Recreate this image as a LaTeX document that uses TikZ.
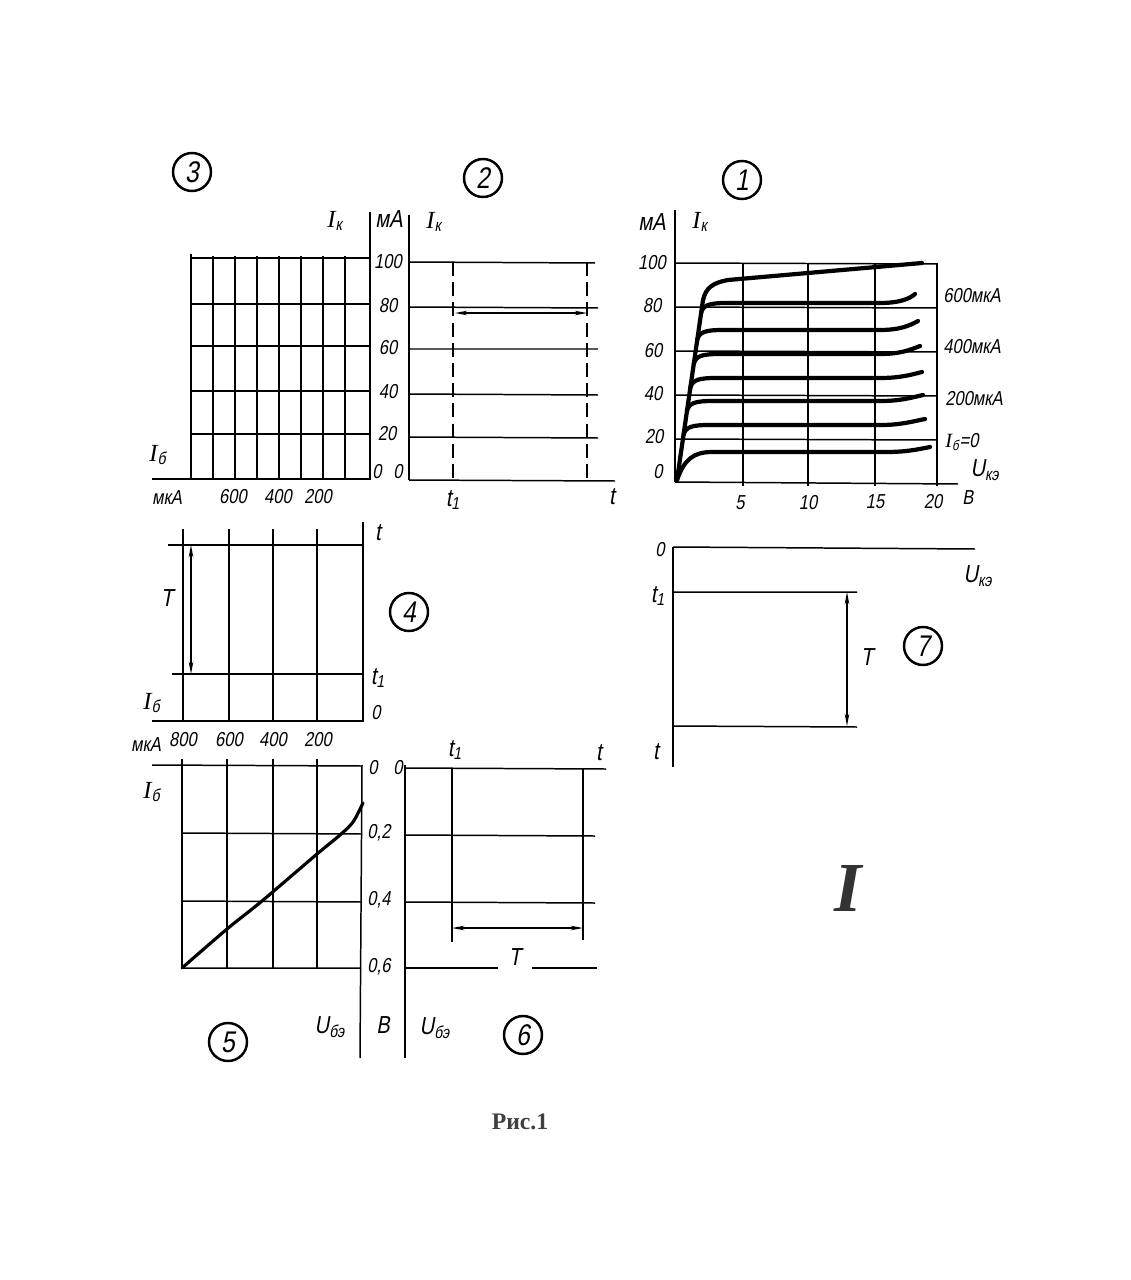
\documentclass[tikz,border=0pt]{standalone}
\usepackage{fontspec}
\usepackage{tikz}
\usetikzlibrary{calc}
\usetikzlibrary{arrows.meta}
\newfontfamily\hand[FakeStretch=0.82,FakeSlant=0.18]{Liberation Sans}
\newfontfamily\capfont{Liberation Serif}
\newcommand{\Ih}{{\capfont\itshape I}}
\newcommand{\createcurve}[3]{\pgfmathsetmacro{\curvex}{677+(470-#1)*0.144} \draw[ikcurve] (\curvex,{#1+10}) .. controls ({\curvex+2},{#1+2}) and ({\curvex+8},#1) .. ({\curvex+26},#1) -- (880,#1) .. controls (900,#1) and (910,{(#1+#3)/2}) .. (#2,#3);}
\tikzset{
  gridline/.style={line width=0.85pt},
  ikcurve/.style={line width=2.4pt, line cap=round, line join=round},
  dimarrow/.style={line width=0.85pt, {Stealth[length=7pt,width=2.6pt]}-{Stealth[length=7pt,width=2.6pt]}},
  tick/.style={font=\hand\fontsize{11.5}{11.5}\selectfont, inner sep=0pt},
  lbl/.style={font=\hand\fontsize{14}{14}\selectfont, inner sep=0pt},
  num/.style={circle, draw, line width=1.4pt, minimum size=0.76cm, inner sep=0pt, font=\hand\fontsize{17}{17}\selectfont}
}

\begin{document}
\begin{tikzpicture}[x=0.02cm,y=-0.02cm]
    \fill[white] (0,0) rectangle (1131,1280);
    \useasboundingbox (0,0) rectangle (1131,1280);

    % circled numbers
    \node[num] (c3) at (192,172) {3};
    \node[num] (c2) at (483,178) {2};
    \node[num] (c1) at (742,180) {1};
    \node[num] (c4) at (409,612) {4};
    \node[num] (c5) at (228,1042) {5};
    \node[num] (c6) at (523,1035) {6};
    \node[num] (c7) at (923,646) {7};

    % 3
    \draw[gridline] (370,212) -- (370,480);
    \draw[gridline] (152,479) -- (370,479);
    \draw[gridline] (191,258) -- (370,258) (191,304) -- (370,304) (191,346) -- (370,346) (191,391) -- (370,391) (191,434) -- (370,434);
    \draw[gridline] (191,254) -- (191,479) (213,256) -- (213,479) (235,256) -- (235,479) (257,256) -- (257,479) (279,256) -- (279,479) (301,256) -- (301,479) (323,256) -- (323,479) (345,256) -- (345,479);
    \node[lbl] (ik3) at (335,221) {\Ih\textsubscript{к}};
    \node[lbl] (ma3) at (389,219) {мА};
    \node[lbl] (ib3) at (158,455) {\Ih\textsubscript{б}};
    \node[tick] (mka3) at (167,498) {мкА};
    \node[tick] (x600) at (233,497) {600};
    \node[tick] (x400) at (278,497) {400};
    \node[tick] (x200) at (318,497) {200};
    \node[tick] (y100) at (388,262) {100};
    \node[tick] (y80) at (388,306) {80};
    \node[tick] (y60) at (388,348) {60};
    \node[tick] (y40) at (388,392) {40};
    \node[tick] (y20) at (387,434) {20};
    \node[tick] (y0) at (377,472) {0};

    % 2
    \draw[gridline] (409,215) -- (409,480);
    \draw[gridline] (409,480) -- (615,481);
    \draw[gridline] (409,262) -- (595,263) (409,307) -- (598,308) (409,349) -- (598,349) (409,394) -- (598,395) (409,437) -- (598,438);
    \draw[gridline, dash pattern=on 8pt off 3.5pt] (453,262) -- (453,480) (587,262) -- (587,480);
    \draw[dimarrow] (455,313) -- (587,313);
    \node[tick] (z2) at (398,472) {0};
    \node[lbl] (ik2) at (434,222) {\Ih\textsubscript{к}};
    \node[lbl] (t12) at (453,500) {t\textsubscript{1}};
    \node[lbl] (t2) at (612,497) {t};

    % 1
    \draw[gridline] (675,210) -- (675,482);
    \draw[gridline] (675,482) -- (958,484);
    \draw[gridline] (675,263) -- (937,264) (675,307) -- (937,308) (675,351) -- (937,352) (675,395) -- (937,396) (675,439) -- (937,440);
    \draw[gridline] (743,263) -- (743,486) (808,263) -- (808,486) (875,263) -- (875,486) (937,263) -- (937,486);
    \draw[ikcurve] (677,480) -- (703,300) .. controls (706,288) and (712,283) .. (728,280) -- (922,263);
    \draw[ikcurve] (677,480) .. controls (684,460) and (693,452) .. (712,452) -- (885,452) .. controls (905,452) and (915,450) .. (930,447);
    \createcurve{425}{925}{419}
    \createcurve{401}{923}{395}
    \createcurve{378}{922}{372}
    \createcurve{354}{920}{346}
    \createcurve{330}{918}{321}
    \createcurve{303}{915}{294}
    \node[lbl] (ma1) at (652,222) {мА};
    \node[lbl] (ik1) at (700,222) {\Ih\textsubscript{к}};
    \node[tick] (a100) at (652,263) {100};
    \node[tick] (a80) at (652,306) {80};
    \node[tick] (a60) at (653,351) {60};
    \node[tick] (a40) at (653,394) {40};
    \node[tick] (a20) at (654,437) {20};
    \node[tick] (a0) at (658,472) {0};
    \node[tick] (b5) at (740,503) {5};
    \node[tick] (b10) at (808,503) {10};
    \node[tick] (b15) at (875,502) {15};
    \node[tick] (b20) at (933,502) {20};
    \node[tick] (bv) at (968,498) {В};
    \node[lbl] (uke1) at (985,470) {U\textsubscript{кэ}};
    \node[tick] (r600) at (972,296) {600мкА};
    \node[tick] (r400) at (972,347) {400мкА};
    \node[tick] (r200) at (974,399) {200мкА};
    \node[tick] (r0) at (962,442) {\Ih\textsubscript{б}=0};

    % 4
    \draw[gridline] (363,522) -- (363,722);
    \draw[gridline] (168,545) -- (363,545) (172,674) -- (363,674) (152,721) -- (363,721);
    \draw[gridline] (183,529) -- (183,721) (229,529) -- (229,721) (273,529) -- (273,721) (317,529) -- (317,721);
    \draw[dimarrow] (191,545) -- (191,674);
    \node[lbl] (T4) at (167,598) {T};
    \node[lbl] (t4) at (378,533) {t};
    \node[lbl] (t14) at (378,678) {t\textsubscript{1}};
    \node[tick] (z4) at (376,713) {0};
    \node[lbl] (ib4) at (152,703) {\Ih\textsubscript{б}};
    \node[tick] (mka4) at (146,745) {мкА};
    \node[tick] (s800) at (183,740) {800};
    \node[tick] (s600) at (229,740) {600};
    \node[tick] (s400) at (273,740) {400};
    \node[tick] (s200) at (318,740) {200};

    % 5
    \draw[gridline] (362,765) -- (360,1058);
    \draw[gridline] (152,765) -- (362,766);
    \draw[gridline] (182,833) -- (362,834) (182,901) -- (362,902) (182,968) -- (361,968);
    \draw[gridline] (182,759) -- (182,968) (227,759) -- (227,968) (273,759) -- (273,968) (317,759) -- (317,968);
    \draw[ikcurve, line width=1.8pt] plot[smooth] coordinates {(182,968) (227,929) (262,901) (317,854) (340,835) (353,822) (363,803)};
    \node[lbl] (ib5) at (152,792) {\Ih\textsubscript{б}};
    \node[tick] (v0) at (373,768) {0};
    \node[tick] (v02) at (379,833) {0,2};
    \node[tick] (v04) at (379,900) {0,4};
    \node[tick] (v06) at (379,967) {0,6};
    \node[lbl] (ube5) at (330,1027) {U\textsubscript{бэ}};
    \node[lbl] (bv5) at (383,1025) {В};

    % 6
    \draw[gridline] (405,765) -- (405,1058);
    \draw[gridline] (405,768) -- (606,769) (405,835) -- (595,836) (405,902) -- (595,903);
    \draw[gridline] (452,768) -- (452,942) (583,768) -- (583,940);
    \draw[dimarrow] (452,928) -- (583,928);
    \node[lbl, inner xsep=6pt] (T6) at (515,957) {T};
    \coordinate (b6) at (405,968);
    \draw[gridline] (b6) -- (b6 -| T6.west);
    \draw[gridline] (b6 -| T6.east) -- (597,968);
    \node[tick] (z6) at (398,768) {0};
    \node[lbl] (t16) at (455,750) {t\textsubscript{1}};
    \node[lbl] (t6) at (599,753) {t};
    \node[lbl] (ube6) at (435,1028) {U\textsubscript{бэ}};

    % 7
    \draw[gridline] (673,547) -- (975,549);
    \draw[gridline] (673,547) -- (673,767);
    \draw[gridline] (673,592) -- (857,592) (673,726) -- (857,727);
    \draw[dimarrow] (847,592) -- (847,726);
    \node[tick] (z7) at (660,550) {0};
    \node[lbl] (t17) at (658,596) {t\textsubscript{1}};
    \node[lbl] (t7) at (656,752) {t};
    \node[lbl] (uke7) at (978,576) {U\textsubscript{кэ}};
    \node[lbl] (T7) at (867,657) {T};

    \node[font=\capfont\bfseries\itshape\fontsize{40}{40}\selectfont, text=black!80] (bigI) at (848,888) {I};
    \node[font=\capfont\bfseries\fontsize{13.5}{13.5}\selectfont, text=black!75] (cap) at (520,1122) {Рис.1};
\end{tikzpicture}
\end{document}
